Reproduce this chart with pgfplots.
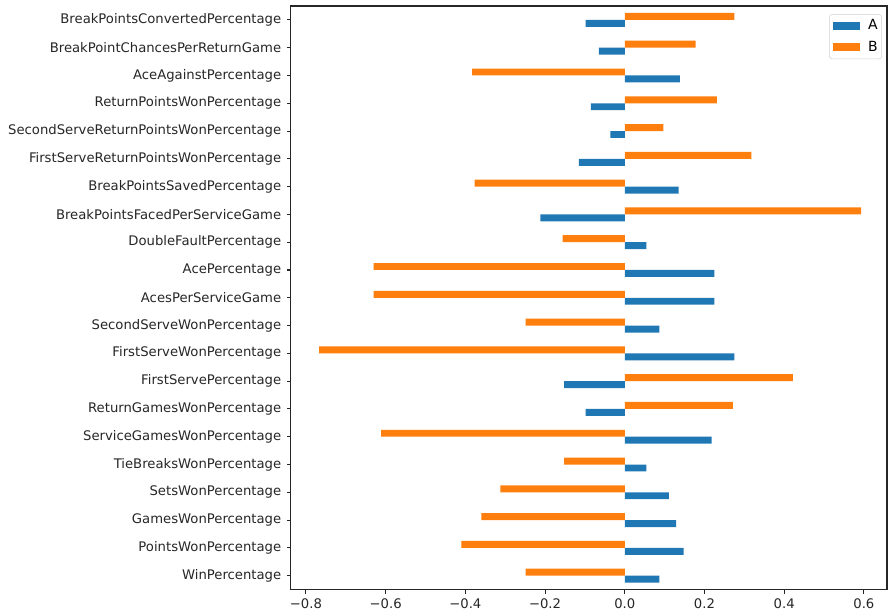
\documentclass[border=0pt]{standalone}
\usepackage{fontspec}
\setmainfont{DejaVu Sans}
\usepackage{pgfplots}
\pgfplotsset{compat=1.18}
\definecolor{tabblue}{RGB}{31,119,180}
\definecolor{taborange}{RGB}{255,127,14}
\begin{document}
\begin{tikzpicture}
\begin{axis}[
  at={(0,0)}, anchor=south west,
  scale only axis, width=447pt, height=437.5pt,
  xmin=-0.838, xmax=0.658, ymin=-0.5, ymax=20.5,
  xbar, bar width=0.25,
  axis line style={line width=0.8pt, black!85},
  tick align=outside, major tick length=3pt,
  tick style={line width=0.8pt, black!85},
  xtick pos=bottom, ytick pos=left,
  xtick={-0.8,-0.6,-0.4,-0.2,0,0.2,0.4,0.6},
  xticklabels={−0.8,−0.6,−0.4,−0.2,0.0,0.2,0.4,0.6},
  ytick={0,...,20},
  yticklabels={WinPercentage,PointsWonPercentage,GamesWonPercentage,SetsWonPercentage,TieBreaksWonPercentage,ServiceGamesWonPercentage,ReturnGamesWonPercentage,FirstServePercentage,FirstServeWonPercentage,SecondServeWonPercentage,AcesPerServiceGame,AcePercentage,DoubleFaultPercentage,BreakPointsFacedPerServiceGame,BreakPointsSavedPercentage,FirstServeReturnPointsWonPercentage,SecondServeReturnPointsWonPercentage,ReturnPointsWonPercentage,AceAgainstPercentage,BreakPointChancesPerReturnGame,BreakPointsConvertedPercentage},
  every tick label/.append style={font=\fontsize{9.9}{11}\selectfont, inner sep=0pt, text=black!85},
  xticklabel shift=4pt, yticklabel shift=4pt,
  legend style={at={(0.9915,0.986)}, anchor=north east, draw=black!18, rounded corners=2pt, font=\fontsize{10.5}{12}\selectfont, inner xsep=1pt, inner ysep=2pt, row sep=3pt},
  legend cell align=left,
  legend image code/.code={\path[fill=none, draw=none] (0pt,-5pt) rectangle (26pt,5pt); \fill[#1, sharp corners] (2pt,-3pt) rectangle (22pt,3pt);},
]
\addplot[draw=none, fill=tabblue, bar shift=-0.125] coordinates {
(0.087,0) (0.148,1) (0.129,2) (0.111,3) (0.054,4) (0.218,5) (-0.098,6) (-0.152,7) (0.275,8) (0.087,9) (0.225,10) (0.225,11) (0.054,12) (-0.212,13) (0.135,14) (-0.115,15) (-0.036,16) (-0.085,17) (0.138,18) (-0.065,19) (-0.098,20)
};
\addlegendentry{A}
\addplot[draw=none, fill=taborange, bar shift=0.125] coordinates {
(-0.249,0) (-0.410,1) (-0.360,2) (-0.312,3) (-0.152,4) (-0.611,5) (0.271,6) (0.422,7) (-0.767,8) (-0.249,9) (-0.630,10) (-0.630,11) (-0.156,12) (0.593,13) (-0.377,14) (0.318,15) (0.097,16) (0.231,17) (-0.383,18) (0.178,19) (0.275,20)
};
\addlegendentry{B}
\end{axis}
\pgfresetboundingbox
\path (-218pt,-17.8pt) rectangle (448.5pt,442pt);
\end{tikzpicture}
\end{document}
